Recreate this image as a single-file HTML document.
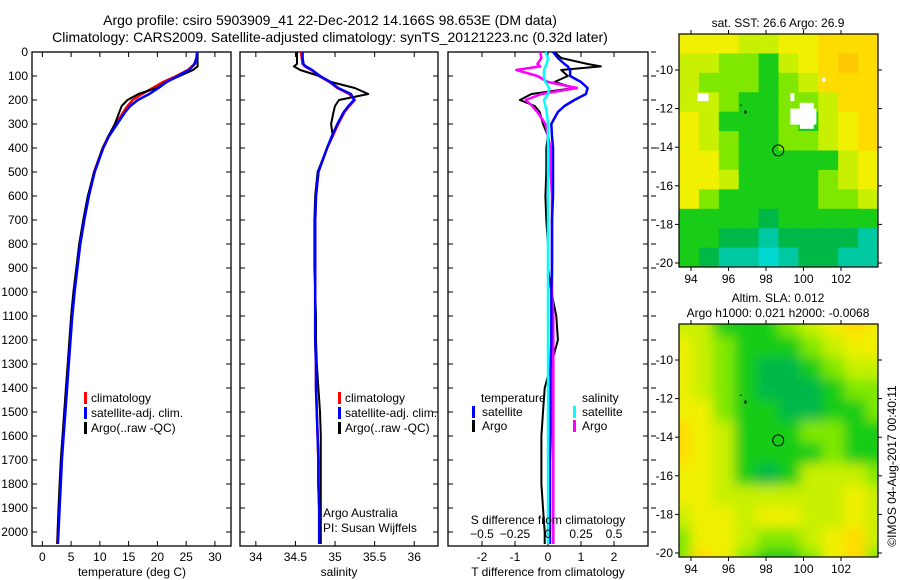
<!DOCTYPE html>
<html><head><meta charset="utf-8">
<style>
body{margin:0;background:#fff;}
svg{display:block;font-family:"Liberation Sans",sans-serif;}
text{fill:#000;}
</style></head>
<body>
<svg id="chart" width="900" height="580" viewBox="0 0 900 580" xmlns="http://www.w3.org/2000/svg">
<text x="330" y="25" font-size="14" text-anchor="middle">Argo profile: csiro 5903909_41 22-Dec-2012 14.166S 98.653E (DM data)</text>
<text x="330" y="42" font-size="14" text-anchor="middle">Climatology: CARS2009. Satellite-adjusted climatology: synTS_20121223.nc (0.32d later)</text>
<g id="p1"></g>
<g id="p2"></g>
<g id="p3"></g>
<g id="m1"></g>
<g id="m2"></g>
<text x="778" y="27" font-size="12" text-anchor="middle">sat. SST: 26.6 Argo: 26.9</text>
<text x="778" y="302" font-size="12" text-anchor="middle">Altim. SLA: 0.012</text>
<text x="778" y="317" font-size="12" text-anchor="middle">Argo h1000: 0.021 h2000: -0.0068</text>
<text x="0" y="0" font-size="12" text-anchor="middle" transform="translate(896,466) rotate(-90)">©IMOS 04-Aug-2017 00:40:11</text>
</svg>
<script>
const depths=[0,25,50,60,75,100,125,150,175,200,225,250,300,350,400,500,600,700,800,900,1000,1100,1200,1300,1400,1500,1600,1700,1800,1900,2000,2050];
const tempClim=[26.9,26.8,26.4,26.0,25.3,23.3,21.0,19.2,17.3,15.7,14.8,14.1,12.8,11.5,10.5,9.0,8.0,7.2,6.5,6.0,5.5,5.1,4.8,4.5,4.2,3.9,3.6,3.3,3.1,2.9,2.7,2.6];
const tempSat=[26.9,26.8,26.5,26.1,25.5,23.6,21.6,20.2,18.6,16.6,15.3,14.4,13.0,11.6,10.6,9.1,8.1,7.3,6.6,6.1,5.6,5.2,4.9,4.6,4.3,4.0,3.7,3.4,3.2,3.0,2.8,2.7];
const tempArgo=[27.0,27.0,27.0,27.0,26.2,23.9,21.5,19.9,16.7,14.8,13.8,13.4,12.6,11.5,10.5,9.0,7.9,7.1,6.4,5.9,5.4,5.0,4.7,4.4,4.1,3.8,3.5,3.2,3.0,2.8,2.65,2.6];
const salClim=[34.57,34.58,34.59,34.62,34.70,34.80,34.93,35.03,35.18,35.25,35.18,35.12,35.04,34.97,34.9,34.79,34.76,34.75,34.75,34.75,34.75,34.75,34.75,34.76,34.76,34.77,34.78,34.79,34.79,34.80,34.80,34.80];
const salSat=[34.59,34.59,34.60,34.63,34.71,34.81,34.94,35.04,35.20,35.24,35.17,35.11,35.03,34.96,34.9,34.79,34.76,34.75,34.75,34.75,34.75,34.75,34.75,34.76,34.76,34.77,34.78,34.79,34.79,34.80,34.80,34.80];
const salArgo=[34.52,34.52,34.52,34.48,34.56,34.80,34.95,35.25,35.42,35.05,35.0,34.98,34.95,34.97,34.9,34.78,34.75,34.74,34.74,34.74,34.75,34.76,34.76,34.77,34.79,34.81,34.82,34.82,34.82,34.82,34.82,34.82];
const tDiffSat=[0.15,0.3,0.5,0.6,0.67,0.67,1.0,1.2,1.15,0.8,0.5,0.3,0.1,0.12,0.15,0.15,0.15,0.12,0.12,0.12,0.1,0.1,0.1,0.08,0.08,0.08,0.08,0.06,0.06,0.06,0.06,0.06];
const tDiffArgo=[0.2,0.4,1.2,1.6,0.4,0.6,0.2,0.8,-0.5,-0.85,-0.4,-0.25,-0.15,0,-0.05,-0.05,-0.08,-0.05,0,0,0.1,0.25,0.3,0.1,-0.1,-0.15,-0.2,-0.2,-0.2,-0.15,-0.1,-0.1];
const sDiffSat=[-0.02,0.0,-0.01,-0.02,-0.03,-0.03,-0.02,0.01,0.0,-0.03,-0.02,-0.01,0,0,0,0,0,0,0,0,0,0,0,0,0,0,0,0,0,0,0,0];
const sDiffArgo=[-0.06,-0.05,-0.08,-0.06,-0.24,-0.08,0.0,0.22,-0.05,-0.17,-0.12,-0.08,-0.02,0,0.02,0.02,0.03,0.03,0.03,0.03,0.03,0.04,0.04,0.04,0.04,0.04,0.04,0.04,0.04,0.04,0.04,0.04];
const depthTicks=[0,100,200,300,400,500,600,700,800,900,1000,1100,1200,1300,1400,1500,1600,1700,1800,1900,2000];
const tempTicks=[0,5,10,15,20,25,30];
const salTicks=[34,34.5,35,35.5,36];
const tDiffTicks=[-2,-1,0,1,2];
const sDiffTicks=[-0.5,-0.25,0,0.25,0.5];
const lonTicks=[94,96,98,100,102];
const latTicks=[-10,-12,-14,-16,-18,-20];
const sstGrid=[
[2,2,2,3,3,2,2,1,1,1],[3,3,4,4,5,3,2,1,0,1],[3,4,4,4,5,4,3,1,1,1],[3,3,4,5,5,4,4,3,1,1],
[2,3,5,5,5,4,5,3,2,1],[2,3,4,5,5,4,4,3,2,1],[2,2,4,5,5,5,5,5,3,2],[2,2,3,5,5,5,5,4,3,2],
[2,4,5,5,5,5,5,4,4,3],[5,5,5,5,6,5,5,5,5,5],[5,5,6,6,7,6,6,6,6,7],[5,6,7,7,8,7,6,6,7,7]];
const slaGrid=[
[3,3,5,5,5,4,3,2,1,2],[2,3,4,5,5,5,4,3,2,2],[2,3,4,5,6,6,5,4,3,3],[2,3,4,5,6,6,6,5,4,4],
[2,2,4,5,5,6,6,5,5,4],[1,2,3,5,5,5,4,4,5,5],[1,2,3,5,5,5,5,4,5,5],[2,2,3,5,6,5,3,3,3,4],
[2,2,3,3,3,3,3,3,2,3],[3,2,2,3,2,2,3,3,2,3],[4,2,2,3,4,4,3,2,1,3],[4,1,2,4,5,5,4,2,1,4]];
const argoLon=98.653, argoLat=-14.166;

const NS="http://www.w3.org/2000/svg";
function el(p,tag,attrs){const e=document.createElementNS(NS,tag);for(const k in attrs)e.setAttribute(k,attrs[k]);p.appendChild(e);return e;}
const yD=d=>52+d*0.24;
const Y0=52,Y1=546;

function panel(g,x0,x1,dom,ticks,labelFn,leftLabels,rightTicks){
  const sx=v=>x0+(v-dom[0])/(dom[1]-dom[0])*(x1-x0);
  const r=el(g,'rect',{x:x0,y:Y0,width:x1-x0,height:Y1-Y0,fill:'none',stroke:'#000','stroke-width':1.3});
  
  
  depthTicks.forEach(d=>{
    const y=yD(d);
    el(g,'line',{x1:x0,x2:x0+5,y1:y,y2:y,stroke:'#000'});
    el(g,'line',{x1:x1,x2:x1-5,y1:y,y2:y,stroke:'#000'});
    if(rightTicks) el(g,'line',{x1:x1+3,x2:x1+8,y1:y,y2:y,stroke:'#000'});
    if(leftLabels){const t=el(g,'text',{x:x0-4,y:y+4,'font-size':12,'text-anchor':'end'});t.textContent=d;
      }
  });
  ticks.forEach(v=>{
    const x=sx(v);
    el(g,'line',{x1:x,x2:x,y1:Y0,y2:Y0+5,stroke:'#000'});
    el(g,'line',{x1:x,x2:x,y1:Y1,y2:Y1-5,stroke:'#000'});
    const t=el(g,'text',{x:x,y:561,'font-size':12,'text-anchor':'middle'});t.textContent=labelFn(v);
    
  });
  return sx;
}
function line(g,sx,vals,color,w,name){
  const pts=vals.map((v,i)=>sx(v).toFixed(1)+','+yD(depths[i]).toFixed(1)).join(' ');
  const p=el(g,'polyline',{points:pts,fill:'none',stroke:color,'stroke-width':w,'stroke-linejoin':'round'});
  
  
}
function txt(g,x,y,s,name,anchor,fs){const t=el(g,'text',{x:x,y:y,'font-size':fs||12,'text-anchor':anchor||'start'});t.textContent=s;
  return t;}
function legBar(g,x,y,c,name){const r=el(g,'rect',{x:x,y:y-10,width:3,height:12,fill:c});}

const g1=document.getElementById('p1');
const sx1=panel(g1,32,231,[-1.8,32.8],tempTicks,v=>v,true,false);
line(g1,sx1,tempClim,'#ff0000',2.5,'temp-climatology-line');
line(g1,sx1,tempArgo,'#000',2,'temp-argo-line');
line(g1,sx1,tempSat,'#0000ff',2.5,'temp-satellite-line');
txt(g1,132,576,'temperature (deg C)','x-axis-title','middle');
[['climatology','#f00'],['satellite-adj. clim.','#00f'],['Argo(..raw -QC)','#000']].forEach((l,i)=>{
  legBar(g1,84,402+i*15,l[1],'legend-swatch');txt(g1,91,402+i*15,l[0],'legend-entry');});

const g2=document.getElementById('p2');
const sx2=panel(g2,240,438,[33.8,36.3],salTicks,v=>v,false,false);
line(g2,sx2,salClim,'#ff0000',2.5,'sal-climatology-line');
line(g2,sx2,salArgo,'#000',2,'sal-argo-line');
line(g2,sx2,salSat,'#0000ff',2.5,'sal-satellite-line');
txt(g2,339,576,'salinity','x-axis-title','middle');
[['climatology','#f00'],['satellite-adj. clim.','#00f'],['Argo(..raw -QC)','#000']].forEach((l,i)=>{
  legBar(g2,338,402+i*15,l[1],'legend-swatch');txt(g2,345,402+i*15,l[0],'legend-entry');});
txt(g2,323,517,'Argo Australia','credit-text');
txt(g2,323,532,'PI: Susan Wijffels','pi-text');

const g3=document.getElementById('p3');
const sx3=panel(g3,448,648,[-3.03,3.03],tDiffTicks,v=>v,false,true);
const sxS=v=>sx3(v*4);
line(g3,sx3,tDiffArgo,'#000',2,'tdiff-argo-line');
line(g3,sxS,sDiffArgo,'#ff00ff',2.5,'sdiff-argo-line');
line(g3,sx3,tDiffSat,'#0000ff',2.5,'tdiff-satellite-line');
line(g3,sxS,sDiffSat,'#00ffff',2.5,'sdiff-satellite-line');
txt(g3,548,576,'T difference from climatology','x-axis-title','middle');
txt(g3,548,524,'S difference from climatology','s-axis-title','middle');
sDiffTicks.forEach(v=>txt(g3,sxS(v),538,String(v).replace('-','\u2212'),'s-tick-label','middle'));
txt(g3,481,402,'temperature','legend-heading');
txt(g3,582,402,'salinity','legend-heading');
legBar(g3,472,416,'#00f','legend-swatch');txt(g3,482,416,'satellite','legend-entry');
legBar(g3,472,430,'#000','legend-swatch');txt(g3,482,430,'Argo','legend-entry');
legBar(g3,573,416,'#0ff','legend-swatch');txt(g3,582,416,'satellite','legend-entry');
legBar(g3,573,430,'#f0f','legend-swatch');txt(g3,582,430,'Argo','legend-entry');

const pal=['#ffc800','#ffdc00','#f0f000','#c8f000','#80e800','#18cc18','#00b848','#00c8a0','#00d8d0'];
const MX0=679,MX1=878;
const lonX=lon=>691+(lon-94)*18.75;
function map(g,grid,yTop,yBot,latY,blur,id){
  const clip=el(g,'clipPath',{id:'c'+id});el(clip,'rect',{x:MX0,y:yTop,width:MX1-MX0,height:yBot-yTop});
  const inner=el(g,'g',{'clip-path':'url(#c'+id+')'});
  el(inner,'rect',{x:MX0,y:yTop,width:MX1-MX0,height:yBot-yTop,fill:'#b0ec10'});
  let tgt=inner;
  if(blur){const f=el(g,'filter',{id:'f'+id,x:'-10%',y:'-10%',width:'120%',height:'120%'});el(f,'feGaussianBlur',{stdDeviation:6});tgt=el(inner,'g',{filter:'url(#f'+id+')'});}
  const cw=(MX1-MX0)/grid[0].length,ch=(yBot-yTop)/grid.length;
  grid.forEach((row,r)=>row.forEach((c,k)=>{
    const x=blur?MX0-cw*0.5+k*cw*1.1:MX0+k*cw;const y=blur?yTop-ch*0.5+r*ch*1.1:yTop+r*ch;
    const rc=el(tgt,'rect',{x:x.toFixed(1),y:y.toFixed(1),width:(cw*(blur?1.15:1)+0.5).toFixed(1),height:(ch*(blur?1.15:1)+0.5).toFixed(1),fill:pal[c]});
    
  }));
  const fr=el(g,'rect',{x:MX0,y:yTop,width:MX1-MX0,height:yBot-yTop,fill:'none',stroke:'#000','stroke-width':1.2});
  
  lonTicks.forEach(l=>{const x=lonX(l);el(g,'line',{x1:x,x2:x,y1:yTop,y2:yTop-4,stroke:'#000'});el(g,'line',{x1:x,x2:x,y1:yBot,y2:yBot+4,stroke:'#000'});
    txt(g,x,yBot+16,l,'lon-tick-label','middle');});
  latTicks.forEach(l=>{const y=latY(l);el(g,'line',{x1:MX0,x2:MX0-4,y1:y,y2:y,stroke:'#000'});el(g,'line',{x1:MX1,x2:MX1+4,y1:y,y2:y,stroke:'#000'});
    txt(g,673,y+4,String(l),'lat-tick-label','end');});
  const c=el(g,'circle',{cx:lonX(argoLon),cy:latY(argoLat),r:5.5,fill:'none',stroke:'#000','stroke-width':1});
  
  el(g,'rect',{x:lonX(96.85),y:latY(-12.1),width:2,height:3,fill:'#000'});
  el(g,'rect',{x:lonX(96.6),y:latY(-11.8),width:2,height:1,fill:'#000'});
}
const m1=document.getElementById('m1');
map(m1,sstGrid,34,267,l=>70+(-10-l)*19.3,false,1);
[[94.35,-11.2,11,8],[99.3,-12.0,26,16],[99.8,-11.7,14,26],[101.0,-10.4,3,4],[99.3,-11.2,4,8]].forEach(w=>{
  const r=el(m1,'rect',{x:lonX(w[0]),y:70+(-10-w[1])*19.3,width:w[2],height:w[3],fill:'#fff'});
  });
const m2=document.getElementById('m2');
map(m2,slaGrid,324,557,l=>360+(-10-l)*19.3,true,2);
</script>
</body></html>
